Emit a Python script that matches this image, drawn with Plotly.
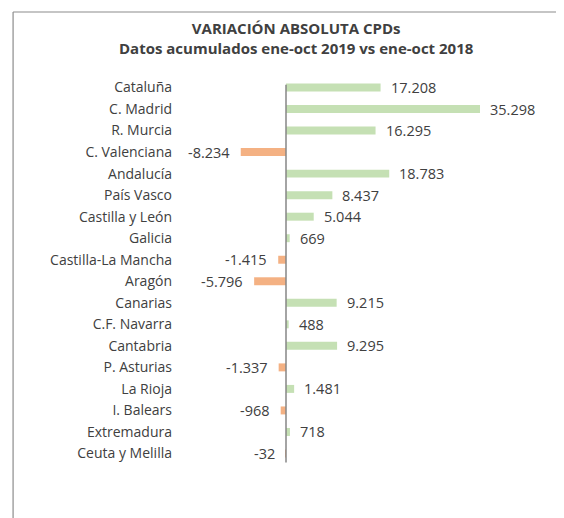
import plotly.graph_objects as go

regions = ["Cataluña", "C. Madrid", "R. Murcia", "C. Valenciana", "Andalucía",
           "País Vasco", "Castilla y León", "Galicia", "Castilla-La Mancha", "Aragón",
           "Canarias", "C.F. Navarra", "Cantabria", "P. Asturias", "La Rioja",
           "I. Balears", "Extremadura", "Ceuta y Melilla"]
variation = [17208, 35298, 16295, -8234, 18783, 8437, 5044, 669, -1415, -5796,
             9215, 488, 9295, -1337, 1481, -968, 718, -32]

GREEN = "#C5E0B4"
ORANGE = "#F4B183"
TEXT = "#404040"
FONT = "Open Sans"

colors = [GREEN if v >= 0 else ORANGE for v in variation]

fig = go.Figure(go.Bar(
    x=variation, y=regions, orientation="h",
    marker=dict(color=colors, line=dict(width=0)),
    hoverinfo="skip", showlegend=False,
))

# value labels (spanish thousand separator)
for r, v in zip(regions, variation):
    fig.add_annotation(
        x=v, y=r, xref="x", yref="y",
        text=f"{v:,}".replace(",", "."),
        showarrow=False,
        xanchor="left" if v >= 0 else "right",
        xshift=8 if v >= 0 else -9,
        font=dict(family=FONT, size=14.5, color=TEXT),
    )

# title
fig.add_annotation(
    x=0.32, y=1.0977, xref="paper", yref="paper",
    text="<b>VARIACIÓN ABSOLUTA CPDs</b><br><b>Datos acumulados ene-oct 2019 vs ene-oct 2018</b>",
    showarrow=False, xanchor="center", yanchor="middle",
    font=dict(family=FONT, size=15, color=TEXT),
)

# vertical axis line at zero
fig.add_shape(type="line", xref="x", yref="y", x0=0, x1=0, y0=-0.13, y1=17.42,
              line=dict(color="#868686", width=1.5))

# frame (top and left edges only visible)
fig.add_shape(type="line", xref="paper", yref="paper", x0=-0.431, x1=1.05,
              y0=1.1645, y1=1.1645, line=dict(color="#8c8c8c", width=1.2))
fig.add_shape(type="line", xref="paper", yref="paper", x0=-0.431, x1=-0.431,
              y0=1.1645, y1=-0.2, line=dict(color="#8c8c8c", width=1.2))

fig.update_layout(
    width=556, height=510,
    margin=dict(l=168, r=10, t=68, b=53),
    paper_bgcolor="white", plot_bgcolor="white",
    bargap=0.63,
    font=dict(family=FONT, size=14, color=TEXT),
)
fig.update_xaxes(range=[-20015, 48763], showgrid=False, zeroline=False,
                 showline=False, showticklabels=False, fixedrange=True)
fig.update_yaxes(autorange="reversed", showgrid=False, zeroline=False,
                 showline=False, ticks="", ticklabelstandoff=3,
                 tickfont=dict(family=FONT, size=14, color=TEXT), fixedrange=True)

fig.write_html("out.html")
